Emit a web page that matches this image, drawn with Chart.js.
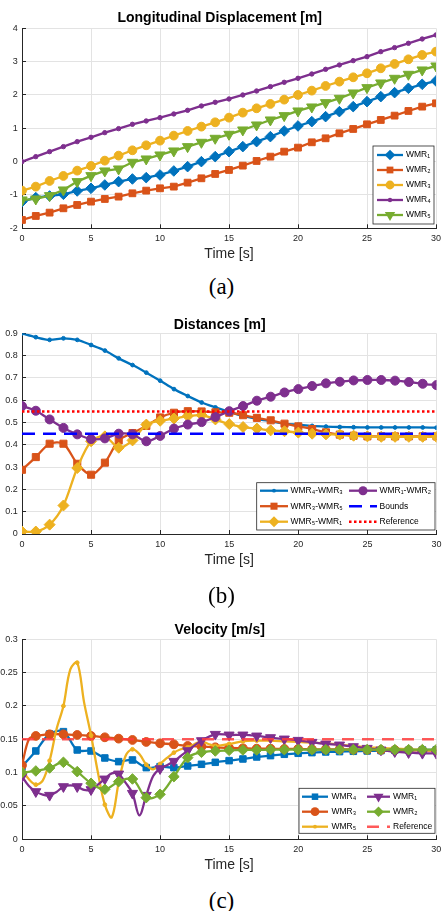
<!DOCTYPE html>
<html>
<head>
<meta charset="utf-8">
<script src="https://cdn.jsdelivr.net/npm/chart.js@4.4.1/dist/chart.umd.min.js"></script>
<style>
  html, body { margin: 0; background: #fff; }
  #page { position: relative; width: 443px; height: 911px; overflow: hidden; }
  canvas { position: absolute; left: 0; }
  .cap { position: absolute; left: 0; width: 443px; text-align: center; line-height: 26px;
         font: 23px "Liberation Serif", "Times New Roman", serif; color: #000; }
</style>
</head>
<body>
<div id="page">
  <canvas id="chart-a"></canvas>
  <canvas id="chart-b"></canvas>
  <canvas id="chart-c"></canvas>
  <div class="cap" style="top:274px">(a)</div>
  <div class="cap" style="top:583px">(b)</div>
  <div class="cap" style="top:888px">(c)</div>
</div>
<script>
// --- data --- //
const timeS = [0, 1, 2, 3, 4, 5, 6, 7, 8, 9, 10, 11, 12, 13, 14, 15, 16, 17, 18, 19, 20,
               21, 22, 23, 24, 25, 26, 27, 28, 29, 30];
const timeTicks = [0, 5, 10, 15, 20, 25, 30];

// (a) longitudinal displacement [m]
const dispWMR1 = [-1.2, -1.08, -1.03, -0.98, -0.88, -0.8, -0.7, -0.6, -0.52, -0.48, -0.4, -0.28, -0.15, 0, 0.15, 0.3,
                  0.45, 0.6, 0.75, 0.92, 1.07, 1.2, 1.35, 1.5, 1.65, 1.8, 1.95, 2.07, 2.2, 2.32, 2.42];
const dispWMR2 = [-1.75, -1.63, -1.53, -1.4, -1.3, -1.2, -1.12, -1.05, -0.95, -0.87, -0.8, -0.75, -0.63, -0.5, -0.37, -0.25,
                  -0.12, 0.02, 0.15, 0.3, 0.42, 0.58, 0.7, 0.85, 0.98, 1.12, 1.25, 1.38, 1.52, 1.65, 1.75];
const dispWMR3 = [-0.87, -0.75, -0.58, -0.43, -0.27, -0.13, 0.03, 0.18, 0.34, 0.49, 0.63, 0.78, 0.92, 1.05, 1.18, 1.32,
                  1.47, 1.6, 1.73, 1.86, 2.0, 2.13, 2.27, 2.4, 2.53, 2.65, 2.8, 2.93, 3.07, 3.2, 3.3];
const dispWMR4 = [0, 0.15, 0.3, 0.45, 0.6, 0.73, 0.87, 0.99, 1.12, 1.22, 1.32, 1.43, 1.54, 1.67, 1.78, 1.88,
                  2.0, 2.12, 2.25, 2.38, 2.5, 2.63, 2.77, 2.9, 3.03, 3.15, 3.3, 3.42, 3.55, 3.68, 3.8];
const dispWMR5 = [-1.15, -1.12, -1.02, -0.85, -0.6, -0.42, -0.28, -0.22, -0.02, 0.08, 0.2, 0.32, 0.45, 0.58, 0.7, 0.82,
                  0.95, 1.1, 1.25, 1.38, 1.52, 1.64, 1.77, 1.9, 2.06, 2.22, 2.36, 2.5, 2.62, 2.75, 2.87];
const dispTicks = [-2, -1, 0, 1, 2, 3, 4];

// (b) distances [m]
const distW4W3 = [0.9, 0.883, 0.871, 0.878, 0.871, 0.848, 0.823, 0.788, 0.758, 0.724, 0.688, 0.65, 0.619, 0.59, 0.568, 0.548,
                  0.53, 0.517, 0.506, 0.495, 0.49, 0.485, 0.482, 0.48, 0.479, 0.478, 0.478, 0.478, 0.478, 0.478, 0.477];
const distW3W5 = [0.288, 0.345, 0.405, 0.405, 0.315, 0.266, 0.32, 0.42, 0.453, 0.485, 0.523, 0.544, 0.551, 0.55, 0.546, 0.544,
                  0.533, 0.521, 0.51, 0.495, 0.483, 0.471, 0.456, 0.446, 0.441, 0.438, 0.438, 0.438, 0.438, 0.438, 0.438];
const distW5W1 = [0.011, 0.011, 0.042, 0.128, 0.296, 0.416, 0.438, 0.387, 0.42, 0.491, 0.508, 0.518, 0.529, 0.533, 0.514, 0.493,
                  0.48, 0.473, 0.465, 0.461, 0.455, 0.45, 0.447, 0.446, 0.441, 0.438, 0.436, 0.436, 0.436, 0.436, 0.436];
const distW1W2 = [0.574, 0.553, 0.514, 0.476, 0.447, 0.426, 0.429, 0.45, 0.447, 0.416, 0.44, 0.473, 0.491, 0.502, 0.525, 0.551,
                  0.574, 0.598, 0.616, 0.635, 0.65, 0.664, 0.676, 0.683, 0.689, 0.691, 0.691, 0.688, 0.682, 0.674, 0.668];
const distBounds = 0.45;
const distReference = 0.55;

// (c) velocity [m/s]
const velWMR4 = [0.109, 0.1325, 0.158, 0.1615, 0.134, 0.1325, 0.122, 0.1165, 0.119, 0.1075, 0.109, 0.1075, 0.11, 0.1125, 0.1155, 0.118,
                 0.1205, 0.1235, 0.1255, 0.1275, 0.129, 0.13, 0.131, 0.1315, 0.132, 0.1325, 0.133, 0.1335, 0.1335, 0.134, 0.134];
const timeV3 = [0, 0.5, 1, 2, 3, 4, 5, 6, 7, 8, 9, 10, 11, 12, 13, 14, 15, 16, 17, 18, 19, 20,
                21, 22, 23, 24, 25, 26, 27, 28, 29, 30];
const velWMR3 = [0.111, 0.15, 0.155, 0.1575, 0.1575, 0.1565, 0.155, 0.153, 0.151, 0.149, 0.146, 0.144, 0.1425, 0.14, 0.139, 0.138,
                 0.137, 0.1365, 0.136, 0.136, 0.1355, 0.1355, 0.135, 0.135, 0.135, 0.1345, 0.1345, 0.134, 0.134, 0.1335, 0.1335, 0.133];
const timeV5 = [0, 0.5, 1, 1.5, 2, 2.5, 3, 3.5, 4, 4.5, 5, 5.5, 6, 6.5, 7, 7.5, 8, 8.5, 9, 9.5, 10, 10.5, 11, 11.5, 12, 12.5,
                13, 13.5, 14, 15, 16, 17, 18, 19, 20, 21, 22, 23, 24, 25, 26, 27, 28, 29, 30];
const velWMR5 = [0.105, 0.09, 0.082, 0.088, 0.118, 0.165, 0.2, 0.255, 0.265, 0.205, 0.156, 0.1, 0.052, 0.033, 0.085, 0.125,
                 0.135, 0.128, 0.112, 0.105, 0.113, 0.122, 0.13, 0.135, 0.138, 0.143, 0.147, 0.143, 0.14,
                 0.143, 0.147, 0.148, 0.148, 0.147, 0.146, 0.145, 0.144, 0.142, 0.14, 0.138, 0.137, 0.136, 0.135, 0.134, 0.133];
const timeV1 = [0, 0.5, 1, 1.5, 2, 2.5, 3, 3.5, 4, 4.5, 5, 5.5, 6, 6.5, 7, 7.5, 8, 8.5, 9, 9.5, 10, 10.5, 11, 11.5, 12,
                13, 14, 15, 16, 17, 18, 19, 20, 21, 22, 23, 24, 25, 26, 27, 28, 29, 30];
const velWMR1 = [0.094, 0.08, 0.0715, 0.067, 0.066, 0.071, 0.079, 0.081, 0.079, 0.074, 0.0745, 0.082, 0.0905, 0.099, 0.098, 0.085,
                 0.069, 0.036, 0.066, 0.095, 0.106, 0.111, 0.117, 0.125, 0.133,
                 0.148, 0.1575, 0.1565, 0.1565, 0.155, 0.1525, 0.1505, 0.1485, 0.1455, 0.143, 0.1415, 0.139, 0.1365, 0.134,
                 0.1315, 0.13, 0.129, 0.129];
const velWMR2 = [0.1, 0.1025, 0.107, 0.1155, 0.1015, 0.084, 0.075, 0.0865, 0.0905, 0.0625, 0.0675, 0.094, 0.1225, 0.1305, 0.1325, 0.1335,
                 0.134, 0.134, 0.1345, 0.1345, 0.1345, 0.1345, 0.1345, 0.1345, 0.1345, 0.1345, 0.1345, 0.1345, 0.1345, 0.1345, 0.1345];
const velReference = 0.15;

// --- style --- //
const FONT = '"Liberation Sans", Arial, Helvetica, sans-serif';
const AXIS = '#262626';
const GRID = '#e3e3e3';
const BLUE = '#0072BD', ORANGE = '#D95319', YELLOW = '#EDB120', PURPLE = '#7E2F8E', GREEN = '#77AC30';

const pts = (t, v) => t.map((x, i) => ({ x, y: v[i] }));

// marker = [pointStyle, radius, rotation]
function line(label, t, v, color, marker, extra = {}) {
    const ds = {
        label, data: pts(t, v),
        borderColor: color, backgroundColor: color, borderWidth: 2.3,
        pointStyle: marker ? marker[0] : 'circle',
        pointRadius: marker ? marker[1] : 0,
        pointRotation: marker ? (marker[2] || 0) : 0,
        pointBackgroundColor: color, pointBorderColor: color, pointBorderWidth: 1,
        tension: 0, marker
    };
    return Object.assign(ds, extra);
}

// markers only on whole seconds (velocity curves are sampled finer)
const onSeconds = (r) => (ctx) => (ctx.raw && Number.isInteger(ctx.raw.x)) ? r : 0;

function drawMarker(ctx, marker, x, y, color) {
    const [style, r, rot] = marker;
    ctx.save();
    ctx.translate(x, y);
    ctx.rotate((rot || 0) * Math.PI / 180);
    ctx.fillStyle = color;
    ctx.beginPath();
    if (style === 'rect') {
        const s = r * Math.SQRT1_2;
        ctx.rect(-s, -s, 2 * s, 2 * s);
    } else if (style === 'rectRot') {
        ctx.moveTo(0, -r); ctx.lineTo(r, 0); ctx.lineTo(0, r); ctx.lineTo(-r, 0); ctx.closePath();
    } else if (style === 'triangle') {
        for (let k = 0; k < 3; k++) {
            const a = k * 2 * Math.PI / 3;
            ctx.lineTo(Math.sin(a) * r, -Math.cos(a) * r);
        }
        ctx.closePath();
    } else {
        ctx.arc(0, 0, r, 0, 2 * Math.PI);
    }
    ctx.fill();
    ctx.restore();
}

// legend box drawn inside the plot like the MATLAB one
const boxLegend = {
    id: 'boxLegend',
    afterDraw(chart, args, o) {
        const ctx = chart.ctx;
        const top = o.top;
        const [bx, by, bw, bh] = o.box;
        ctx.save();
        ctx.fillStyle = '#fff';
        ctx.fillRect(bx, by - top, bw, bh);
        ctx.strokeStyle = AXIS;
        ctx.lineWidth = 0.8;
        ctx.strokeRect(bx, by - top, bw, bh);
        chart.data.datasets.forEach((ds, i) => {
            const col = Math.floor(i / o.rows), row = i % o.rows;
            const [x0, x1, tx] = o.cols[col];
            const y = o.rowY[row] - top;
            ctx.strokeStyle = ds.borderColor;
            ctx.lineWidth = ds.borderWidth;
            ctx.setLineDash(ds.borderDash || []);
            ctx.beginPath(); ctx.moveTo(x0, y); ctx.lineTo(x1, y); ctx.stroke();
            ctx.setLineDash([]);
            if (ds.marker) drawMarker(ctx, ds.marker, (x0 + x1) / 2, y, ds.borderColor);
            ctx.fillStyle = '#000';
            ctx.font = '8.5px ' + FONT;
            ctx.textBaseline = 'middle';
            ctx.fillText(ds.label, tx, y);
        });
        ctx.restore();
    }
};

const fmtDec = (v) => String(+Number(v).toFixed(2));

function makeChart(id, g, title, datasets, yAxis, legend) {
    const canvas = document.getElementById(id);
    canvas.width = 443; canvas.height = g.h;
    canvas.style.top = g.top + 'px';
    const bottom = g.top + g.h;
    datasets.forEach((ds, i) => { ds.order = -i; });
    const tickFont = { family: FONT, size: 9 };
    return new Chart(canvas, {
        type: 'line',
        data: { datasets },
        plugins: [boxLegend],
        options: {
            responsive: false,
            animation: false,
            events: [],
            layout: { padding: { left: 0, right: 3.5, top: 0, bottom: 0 } },
            plugins: {
                legend: { display: false },
                tooltip: { enabled: false },
                title: {
                    display: true, text: title, color: '#000',
                    font: { family: FONT, size: 14, weight: 'bold' },
                    padding: { top: g.titleY - g.top - 8.4, bottom: Math.max(0, g.plotTop - g.titleY - 8.4) }
                },
                boxLegend: Object.assign({ top: g.top }, legend)
            },
            scales: {
                x: {
                    type: 'linear', min: 0, max: 30,
                    afterBuildTicks: (s) => { s.ticks = timeTicks.map(v => ({ value: v })); },
                    ticks: { font: tickFont, color: AXIS, padding: 9.3, maxRotation: 0, autoSkip: false },
                    grid: { color: GRID, tickColor: AXIS, tickLength: -4 },
                    border: { color: AXIS, width: 1 },
                    title: {
                        display: true, text: 'Time [s]', color: AXIS,
                        font: { family: FONT, size: 14 },
                        padding: { top: 0, bottom: bottom - (g.plotBottom + 26) - 8.4 }
                    },
                    afterFit: (s) => { s.height = bottom - g.plotBottom; s.paddingLeft = 0; s.paddingRight = 0; }
                },
                y: {
                    type: 'linear', min: yAxis.min, max: yAxis.max,
                    afterBuildTicks: (s) => { s.ticks = yAxis.ticks.map(v => ({ value: v })); },
                    ticks: { font: tickFont, color: AXIS, padding: 8.2, callback: yAxis.fmt },
                    grid: { color: GRID, tickColor: AXIS, tickLength: -4 },
                    border: { color: AXIS, width: 1 },
                    afterFit: (s) => { s.width = 22; s.paddingTop = 0; s.paddingBottom = 0; }
                }
            }
        }
    });
}

// --- (a) Longitudinal Displacement --- //
makeChart('chart-a', { top: 0, h: 266, titleY: 18, plotTop: 28.3, plotBottom: 228.3 },
    'Longitudinal Displacement [m]',
    [
        line('WMR₁', timeS, dispWMR1, BLUE, ['rectRot', 5.3]),
        line('WMR₂', timeS, dispWMR2, ORANGE, ['rect', 4.8]),
        line('WMR₃', timeS, dispWMR3, YELLOW, ['circle', 4.4]),
        line('WMR₄', timeS, dispWMR4, PURPLE, ['circle', 2.2]),
        line('WMR₅', timeS, dispWMR5, GREEN, ['triangle', 6, 180])
    ],
    { min: -2, max: 4, ticks: dispTicks, fmt: (v) => String(v) },
    { box: [373, 146, 61, 78], rows: 5, rowY: [155, 170, 185, 200, 215], cols: [[377, 403, 406]] }
);

// --- (b) Distances --- //
makeChart('chart-b', { top: 300, h: 270, titleY: 325, plotTop: 333.4, plotBottom: 534 },
    'Distances [m]',
    [
        line('WMR₄-WMR₃', timeS, distW4W3, BLUE, ['circle', 1.9], { tension: 0.3 }),
        line('WMR₃-WMR₅', timeS, distW3W5, ORANGE, ['rect', 5], { tension: 0.3 }),
        line('WMR₅-WMR₁', timeS, distW5W1, YELLOW, ['rectRot', 5.5], { tension: 0.3 }),
        line('WMR₁-WMR₂', timeS, distW1W2, PURPLE, ['circle', 4.5], { tension: 0.3 }),
        line('Bounds', [0, 30], [distBounds, distBounds], '#0000FF', null, { borderWidth: 2.5, borderDash: [13, 8] }),
        line('Reference', [0, 30], [distReference, distReference], '#FF0000', null, { borderWidth: 2.5, borderDash: [2.5, 2.5] })
    ],
    { min: 0, max: 0.9, ticks: [0, 0.1, 0.2, 0.3, 0.4, 0.5, 0.6, 0.7, 0.8, 0.9], fmt: fmtDec },
    { box: [256.7, 482.7, 178.3, 47.3], rows: 3, rowY: [490.7, 506.2, 521.7],
      cols: [[260, 288, 290.5], [349, 377, 379.5]] }
);

// --- (c) Velocity --- //
const velSets = [
    line('WMR₄', timeS, velWMR4, BLUE, ['rect', 4.6], { tension: 0.35 }),
    line('WMR₃', timeV3, velWMR3, ORANGE, ['circle', 4.4], { tension: 0.35 }),
    line('WMR₅', timeV5, velWMR5, YELLOW, ['circle', 1.9], { tension: 0.35 }),
    line('WMR₁', timeV1, velWMR1, PURPLE, ['triangle', 5.8, 180], { tension: 0.35 }),
    line('WMR₂', timeS, velWMR2, GREEN, ['rectRot', 5.3], { tension: 0.35 }),
    line('Reference', [0, 30], [velReference, velReference], 'rgba(255,60,60,0.85)', null, { borderWidth: 2.5, borderDash: [12, 8] })
];
velSets.forEach(ds => { if (ds.marker) ds.pointRadius = onSeconds(ds.marker[1]); });
makeChart('chart-c', { top: 605, h: 271, titleY: 630, plotTop: 639.3, plotBottom: 839.3 },
    'Velocity [m/s]',
    velSets,
    { min: 0, max: 0.3, ticks: [0, 0.05, 0.1, 0.15, 0.2, 0.25, 0.3], fmt: fmtDec },
    { box: [299, 788.3, 136, 45], rows: 3, rowY: [796.7, 811.7, 826.7],
      cols: [[302, 328, 331.5], [367, 390, 393]] }
);
</script>
</body>
</html>
